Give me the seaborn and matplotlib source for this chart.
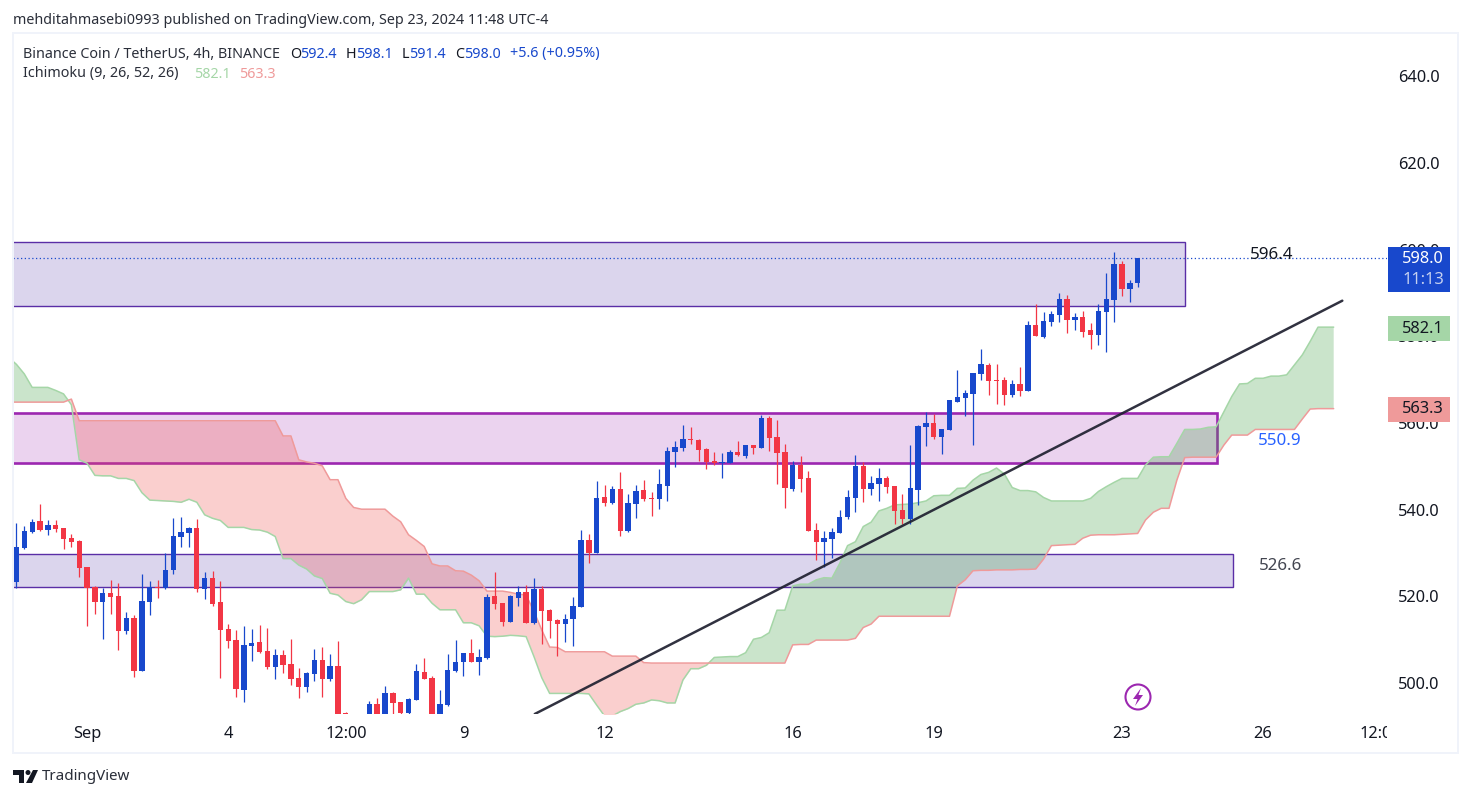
import numpy as np
import pandas as pd
import seaborn as sns
import matplotlib
matplotlib.use('Agg')
import matplotlib.pyplot as plt
from matplotlib.patches import Circle, Polygon, Rectangle
from matplotlib.transforms import Bbox, IdentityTransform

W, H = 1472, 798

# 4h candles
opens = [523.3, 531.2, 534.9, 537.4, 535.3, 536.5, 535.8, 533.5, 532.8, 526.8, 522.2, 518.7, 520.8, 520.1, 512.0, 515.0,
         502.8, 518.7, 522.2, 521.9, 526.1, 533.7, 534.6, 535.8, 521.7, 524.2, 518.7, 512.5, 509.9, 498.4, 508.5, 509.5,
         507.4, 503.7, 506.5, 504.4, 501.2, 499.1, 502.1, 505.3, 500.9, 503.9, 493.0, 488.0, 490.0, 491.0, 495.2, 491.5,
         497.7, 495.6, 493.1, 496.1, 502.5, 501.2, 490.0, 494.9, 502.8, 504.8, 506.9, 504.8, 505.8, 520.1, 518.5, 514.1,
         519.6, 521.0, 513.8, 521.7, 516.8, 514.5, 513.6, 514.8, 517.5, 533.0, 530.0, 542.9, 541.5, 544.8, 535.1, 541.3,
         544.5, 542.7, 542.5, 545.5, 553.3, 554.2, 556.3, 556.1, 554.0, 551.2, 550.8, 550.8, 553.3, 552.4, 554.9, 554.2,
         561.2, 556.8, 553.3, 544.8, 550.3, 547.3, 535.3, 532.5, 533.2, 534.6, 538.3, 542.7, 550.1, 544.8, 545.9, 547.3,
         545.5, 539.9, 537.9, 544.5, 559.1, 560.0, 556.8, 558.4, 564.8, 565.8, 566.7, 571.3, 573.4, 569.9, 569.9, 566.5,
         569.0, 567.4, 582.6, 579.8, 583.3, 584.9, 588.6, 583.8, 584.5, 581.5, 580.3, 585.6, 588.4, 596.7, 590.9, 592.4]
closes = [531.4, 535.1, 537.2, 535.3, 536.5, 535.5, 533.2, 532.5, 526.5, 521.9, 518.7, 520.8, 519.9, 512.0, 515.0, 502.8,
          518.9, 522.2, 521.9, 526.1, 533.9, 534.9, 535.8, 521.7, 524.2, 518.2, 512.2, 509.7, 498.6, 508.8, 509.2, 507.2,
          503.7, 506.5, 504.2, 500.9, 499.1, 502.3, 505.3, 500.9, 503.9, 491.0, 490.5, 490.0, 488.5, 495.2, 491.0, 497.7,
          495.4, 493.1, 496.3, 502.8, 500.9, 489.0, 495.2, 503.0, 504.8, 506.9, 504.8, 506.0, 519.8, 518.2, 514.1, 520.1,
          521.0, 513.8, 521.7, 516.6, 514.3, 513.6, 514.8, 517.8, 533.0, 530.0, 542.7, 541.5, 544.8, 535.1, 541.5, 544.3,
          542.5, 542.5, 545.9, 553.5, 554.5, 556.3, 556.1, 553.8, 551.0, 550.8, 551.0, 553.3, 552.6, 554.9, 554.2, 561.2,
          556.5, 553.1, 545.0, 550.3, 547.1, 535.1, 532.5, 533.5, 534.9, 538.3, 542.9, 550.1, 544.8, 546.2, 547.3, 545.2,
          539.7, 537.9, 545.0, 559.3, 560.0, 556.8, 558.6, 565.3, 566.0, 566.9, 571.5, 573.6, 569.7, 569.7, 566.5, 569.0,
          567.4, 582.6, 580.1, 583.5, 585.2, 588.6, 583.8, 584.5, 581.0, 580.3, 585.8, 588.6, 596.7, 590.9, 592.3, 598.0]
highs = [536.9, 536.2, 537.9, 541.3, 537.6, 537.6, 535.8, 534.4, 533.0, 526.8, 522.4, 521.9, 523.8, 523.1, 516.4, 515.7,
         525.2, 523.5, 523.8, 529.9, 538.1, 538.3, 536.0, 537.9, 525.6, 525.9, 523.5, 513.6, 512.2, 513.2, 512.5, 513.4,
         512.7, 507.9, 507.6, 510.2, 503.5, 502.5, 507.9, 508.3, 506.7, 509.7, 493.2, 490.5, 490.5, 495.8, 496.5, 499.3,
         497.9, 495.6, 496.5, 504.4, 505.8, 501.6, 498.4, 506.7, 509.9, 506.9, 510.2, 507.8, 520.5, 525.6, 518.5, 520.3,
         522.4, 522.6, 524.2, 522.4, 517.1, 514.8, 515.9, 519.8, 535.3, 534.4, 546.6, 545.7, 545.5, 548.7, 543.6, 545.7,
         546.8, 544.1, 549.4, 554.4, 555.9, 559.5, 559.1, 556.3, 554.2, 553.3, 553.1, 553.8, 555.9, 554.9, 554.9, 561.9,
         561.6, 560.7, 555.2, 551.2, 552.4, 548.9, 536.9, 535.1, 535.8, 539.9, 544.5, 552.6, 551.0, 547.8, 549.6, 547.8,
         545.5, 543.6, 554.9, 559.5, 562.5, 562.1, 558.6, 565.3, 572.2, 567.6, 571.5, 577.1, 573.8, 573.6, 570.6, 569.9,
         572.9, 583.5, 587.5, 585.6, 585.8, 590.0, 589.5, 585.4, 585.8, 583.1, 587.5, 594.6, 599.5, 597.4, 593.0, 598.1]
lows = [522.0, 530.9, 534.6, 535.1, 534.2, 534.9, 530.9, 531.4, 524.5, 513.2, 515.9, 510.2, 515.9, 507.6, 511.3, 501.4,
        502.8, 515.7, 519.6, 521.7, 525.2, 531.4, 531.4, 521.0, 519.4, 517.8, 501.2, 508.1, 496.8, 495.6, 505.1, 506.9,
        503.2, 500.9, 502.3, 499.5, 496.5, 497.9, 500.5, 496.8, 500.5, 490.0, 489.0, 487.0, 488.0, 490.0, 490.0, 491.0,
        492.9, 492.9, 492.9, 496.1, 500.9, 488.0, 489.0, 494.7, 502.5, 501.6, 504.8, 501.8, 505.5, 517.1, 513.2, 514.1,
        517.8, 513.8, 513.6, 509.0, 510.4, 506.2, 509.5, 508.5, 517.5, 527.7, 530.0, 540.8, 541.3, 533.9, 534.8, 538.1,
        542.0, 538.5, 540.2, 542.0, 549.9, 553.5, 555.2, 551.2, 549.4, 550.3, 547.3, 550.8, 552.4, 551.9, 552.8, 554.2,
        553.5, 545.9, 540.4, 544.3, 544.1, 535.1, 528.4, 526.8, 528.9, 534.6, 537.9, 539.5, 541.8, 543.4, 542.0, 543.9,
        536.7, 536.7, 536.7, 541.1, 554.7, 556.3, 552.8, 558.4, 564.8, 561.6, 554.9, 569.9, 566.5, 564.4, 564.2, 566.0,
        566.2, 567.4, 580.1, 579.6, 582.4, 583.3, 580.8, 581.5, 579.8, 577.1, 578.0, 576.4, 583.3, 589.3, 587.9, 591.4]

# ichimoku spans, one value per bar from one bar left of the first candle
span_a = [575.1, 573.5, 571.3, 568.2, 568.2, 568.2, 567.5, 566.7, 564.2, 551.5, 550.7, 547.9, 547.8, 547.8, 547.2, 547.2,
          546.7, 543.9, 542.2, 542.1, 542.0, 541.9, 541.7, 542.4, 541.7, 538.8, 538.0, 537.5, 535.9, 535.9, 535.9, 535.4,
          535.3, 534.8, 533.8, 528.7, 528.7, 527.2, 526.3, 524.7, 524.1, 520.7, 520.3, 518.8, 518.3, 519.2, 521.1, 521.1,
          521.1, 521.1, 521.5, 524.2, 520.5, 520.5, 518.4, 516.9, 516.9, 516.9, 513.9, 513.9, 513.2, 510.8, 510.7, 510.8,
          511.0, 510.9, 510.7, 506.1, 501.2, 497.6, 497.6, 497.6, 497.6, 497.6, 497.5, 494.9, 492.4, 492.4, 493.4, 494.1,
          495.1, 495.4, 496.1, 495.9, 495.4, 495.4, 500.7, 503.3, 503.3, 504.1, 505.9, 506.0, 506.1, 506.1, 507.0, 510.1,
          510.5, 511.6, 516.8, 516.8, 522.4, 522.8, 522.8, 523.8, 524.3, 524.2, 527.6, 531.7, 532.6, 536.1, 537.1, 539.7,
          540.3, 541.1, 541.2, 541.3, 541.6, 542.0, 543.2, 543.3, 543.3, 544.9, 545.0, 546.8, 548.1, 548.6, 549.6, 548.2,
          545.1, 544.4, 544.4, 544.1, 542.8, 542.0, 542.0, 542.0, 542.0, 542.0, 542.6, 544.2, 545.3, 546.3, 547.2, 547.2,
          547.2, 550.3, 552.1, 552.2, 552.2, 555.3, 558.5, 558.5, 558.6, 559.0, 559.1, 562.6, 566.1, 569.0, 569.1, 570.3,
          570.3, 570.8, 570.8, 571.1, 573.4, 575.7, 578.8, 582.1, 582.1, 582.1]
span_b = [564.8, 564.8, 564.8, 564.8, 564.8, 564.8, 564.8, 564.8, 565.5, 560.5, 560.5, 560.5, 560.5, 560.5, 560.5, 560.5,
          560.5, 560.5, 560.5, 560.5, 560.5, 560.5, 560.5, 560.5, 560.5, 560.5, 560.5, 560.5, 560.5, 560.5, 560.5, 560.5,
          560.5, 560.5, 560.5, 557.0, 557.0, 551.5, 551.0, 550.7, 550.1, 546.9, 546.9, 542.6, 540.5, 540.1, 540.1, 540.1,
          540.1, 538.5, 537.2, 534.2, 532.9, 531.5, 527.5, 527.0, 527.0, 525.9, 525.8, 524.9, 523.6, 521.2, 521.2, 521.2,
          520.9, 520.5, 520.3, 516.5, 512.2, 508.3, 508.2, 507.2, 507.2, 507.2, 507.2, 507.2, 507.2, 506.2, 506.2, 506.2,
          506.2, 504.7, 504.6, 504.6, 504.6, 504.6, 504.6, 504.6, 504.6, 504.6, 504.6, 504.6, 504.6, 504.6, 504.6, 504.6,
          504.6, 504.6, 504.6, 504.6, 508.8, 508.9, 508.9, 509.9, 509.9, 509.9, 509.9, 509.9, 510.3, 512.8, 513.6, 515.4,
          515.4, 515.4, 515.4, 515.4, 515.4, 515.4, 515.4, 515.4, 515.4, 522.4, 523.8, 525.9, 526.0, 526.0, 526.1, 526.1,
          526.1, 526.2, 526.2, 526.3, 528.6, 531.7, 531.8, 531.9, 532.0, 533.4, 534.1, 534.2, 534.2, 534.2, 534.3, 534.4,
          534.5, 537.6, 539.4, 540.3, 540.3, 546.8, 552.0, 552.1, 552.1, 552.1, 552.1, 554.9, 557.2, 557.2, 557.2, 558.5,
          558.5, 558.5, 558.5, 558.5, 558.5, 560.9, 563.2, 563.3, 563.3, 563.3]

price_ticks = [640, 620, 600, 580, 560, 540, 520, 500]
date_labels = ['Sep', '4', '12:00', '9', '12', '16', '19', '23', '26', '12:00']
date_bars = [9, 27, 42, 57, 75, 99, 117, 141, 159, 174]

# drawn zones: bar where they end, top and bottom price
zone_ends = [149.0, 153.1, 155.2]
zone_tops = [601.7, 562.3, 529.8]
zone_bottoms = [587.0, 550.7, 522.1]
trend_bars = [66.1, 169.1]
trend_prices = [492.85, 588.2]

BLUE = '#1848cc'
RED = '#f23645'
SOFT_GREEN = '#a5d6a7'
SOFT_RED = '#ef9a9a'
INK = '#131722'

sns.set_theme(style='white')
plt.rcParams['font.family'] = ['Noto Sans', 'DejaVu Sans']
plt.rcParams['axes.unicode_minus'] = False

candles = pd.DataFrame({'open': opens, 'high': highs, 'low': lows, 'close': closes})
candles['bar'] = np.arange(len(candles))
candles['color'] = np.where(candles['close'] >= candles['open'], BLUE, RED)
cloud = pd.DataFrame({'bar': np.arange(-1, len(span_a) - 1), 'a': span_a, 'b': span_b})

fig = plt.figure(figsize=(W / 100, H / 100), dpi=100, facecolor='white')
ax = fig.add_axes([13 / W, (H - 714) / H, 1374 / W, 679 / H])
ax.set_facecolor('white')
ax.set_xlim(-0.446, 174.8)
ax.set_ylim(492.85, 649.5)
sns.despine(ax=ax, left=True, bottom=True, right=True, top=True)


def px_text(x, y, s, **kw):
    kw.setdefault('fontsize', 10.3)
    kw.setdefault('color', INK)
    kw.setdefault('va', 'center')
    kw.setdefault('zorder', 10)
    return fig.text(x / W, (H - y) / H, s, **kw)


def px_rect(x0, y0, x1, y1, color):
    fig.add_artist(Rectangle((x0 / W, (H - y1) / H), (x1 - x0) / W, (y1 - y0) / H, transform=fig.transFigure,
                             facecolor=color, edgecolor='none', zorder=5))


# zones sit under the cloud
ax.barh(zone_bottoms[0], zone_ends[0] + 1, height=zone_tops[0] - zone_bottoms[0], left=-1, align='edge',
        facecolor=(0.37, 0.25, 0.69, 0.22), edgecolor='#5a2ea6', linewidth=1, zorder=1)
ax.barh(zone_bottoms[1], zone_ends[1] + 1, height=zone_tops[1] - zone_bottoms[1], left=-1, align='edge',
        facecolor=(0.61, 0.15, 0.69, 0.2), edgecolor='#9c27b0', linewidth=1.9, zorder=1)
ax.barh(zone_bottoms[2], zone_ends[2] + 1, height=zone_tops[2] - zone_bottoms[2], left=-1, align='edge',
        facecolor=(0.37, 0.25, 0.69, 0.22), edgecolor='#5a2ea6', linewidth=1, zorder=1)

a = cloud['a'].to_numpy()
b = cloud['b'].to_numpy()
ax.fill_between(cloud['bar'], a, b, where=a >= b, interpolate=True, color=(0.263, 0.627, 0.278, 0.28), lw=0, zorder=2)
ax.fill_between(cloud['bar'], a, b, where=a <= b, interpolate=True, color=(0.937, 0.325, 0.314, 0.28), lw=0, zorder=2)
sns.lineplot(data=cloud, x='bar', y='a', ax=ax, color=SOFT_GREEN, linewidth=1.1, zorder=2.5)
sns.lineplot(data=cloud, x='bar', y='b', ax=ax, color=SOFT_RED, linewidth=1.1, zorder=2.5)

ax.vlines(candles['bar'], candles['low'], candles['high'], colors=candles['color'], linewidth=0.9, zorder=3)
ax.bar(candles['bar'], (candles['close'] - candles['open']).abs().clip(lower=0.25),
       bottom=candles[['open', 'close']].min(axis=1), width=0.68, color=candles['color'], linewidth=0, zorder=3.5)

ax.axhline(closes[-1], color=BLUE, linewidth=0.9, linestyle=(0, (1, 2)), zorder=2.8)
sns.lineplot(x=trend_bars, y=trend_prices, ax=ax, color='#1f2030', linewidth=1.8, alpha=0.92, zorder=4)

ax.set_xlabel('')
ax.set_ylabel('')
ax.set_xticks(date_bars)
ax.set_xticklabels(date_labels, fontsize=11.8, color=INK, fontweight='semibold')
ax.yaxis.tick_right()
ax.set_yticks(price_ticks)
ax.set_yticklabels([f'{p:.1f}' for p in price_ticks], fontsize=11.8, color=INK, fontweight='semibold')
ax.tick_params(axis='x', length=0, pad=9)
ax.tick_params(axis='y', length=0, pad=8)
ax.get_xticklabels()[-1].set_clip_box(Bbox([[13, 0], [1387, H]]))
ax.get_xticklabels()[-1].set_clip_on(True)

# outer frame
for x0, y0, x1, y1 in [(12, 33, 14, 753), (12, 32, 1459, 34), (1457, 33, 1459, 753), (12, 752, 1459, 754)]:
    fig.add_artist(Rectangle((x0 / W, (H - y1) / H), (x1 - x0) / W, (y1 - y0) / H, transform=fig.transFigure,
                             facecolor='#f0f3fa', edgecolor='none', zorder=4))

# header
px_text(13, 20, 'mehditahmasebi0993 published on TradingView.com, Sep 23, 2024 11:48 UTC-4', color='#2a2e39')
px_text(23, 54, 'Binance Coin / TetherUS, 4h, BINANCE', color='#2a2e39')
for x, s, c in [(290, 'O', INK), (300, '592.4', BLUE), (346, 'H', INK), (356, '598.1', BLUE), (402, 'L', INK),
                (409, '591.4', BLUE), (455, 'C', INK), (464, '598.0', BLUE), (510, '+5.6 (+0.95%)', BLUE)]:
    px_text(x, 54, s, color=c)
px_text(23, 74, 'Ichimoku (9, 26, 52, 26)', color='#2a2e39')
px_text(194, 74, '582.1', color=SOFT_GREEN)
px_text(239, 74, '563.3', color=SOFT_RED)

# price tags on the scale
px_rect(1388, 247, 1450, 292, BLUE)
px_rect(1388, 316, 1450, 341, SOFT_GREEN)
px_rect(1388, 397, 1450, 422, SOFT_RED)
px_text(1444, 259, '598.0', color='white', fontsize=11.8, ha='right', fontweight='semibold')
px_text(1444, 280, '11:13', color='#c5d0f0', fontsize=11.8, ha='right', fontweight='semibold')
px_text(1444, 329, '582.1', color=INK, fontsize=11.8, ha='right', fontweight='semibold')
px_text(1444, 409, '563.3', color=INK, fontsize=11.8, ha='right', fontweight='semibold')

# notes next to the zones
px_text(1272, 255, '596.4', color=INK, fontsize=12.2, ha='center')
px_text(1280, 441, '550.9', color='#2962ff', fontsize=12.2, ha='center')
px_text(1280, 566, '526.6', color='#434651', fontsize=12.2, ha='center')

# lightning marker
identity = IdentityTransform()
fig.add_artist(Circle((1138, H - 697), 12.5, transform=identity, facecolor='white', edgecolor='#9c27b0', linewidth=1.5, zorder=6))
bolt = [(1141, 688), (1133, 699), (1137.5, 699), (1135, 706), (1143, 695), (1138.5, 695)]
fig.add_artist(Polygon([(x, H - y) for x, y in bolt], transform=identity, facecolor='#9c27b0', edgecolor='none', zorder=7))

# TradingView mark
for shape in ([(13, 770), (24, 770), (24, 783), (19, 783), (19, 775), (13, 775)],
              [(33, 770), (38, 770), (32, 783), (26, 783)]):
    fig.add_artist(Polygon([(x, H - y) for x, y in shape], transform=identity, facecolor=INK, edgecolor='none', zorder=7))
fig.add_artist(Circle((28, H - 772.5), 2.5, transform=identity, facecolor=INK, edgecolor='none', zorder=7))
px_text(42, 777, 'TradingView', color='#2a2e39', fontsize=10.9)

fig.savefig('out.png', dpi=100, facecolor='white')
